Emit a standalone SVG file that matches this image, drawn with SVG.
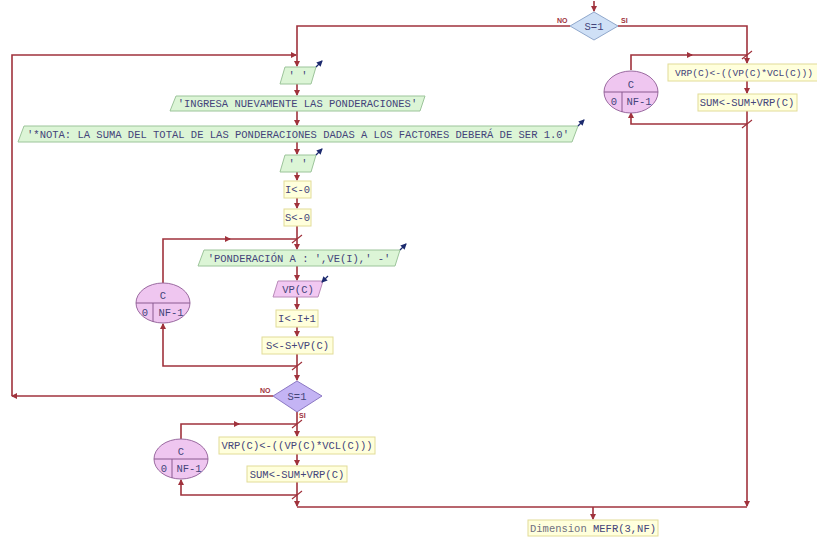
<svg xmlns="http://www.w3.org/2000/svg" width="817" height="537" viewBox="0 0 817 537">
<defs>
<marker id="ah" markerWidth="6" markerHeight="6" refX="5" refY="3" orient="auto" markerUnits="userSpaceOnUse">
<path d="M0,0 L6,3 L0,6 Z" fill="#a0323c"/>
</marker>
<marker id="bh" markerWidth="6" markerHeight="6" refX="5" refY="3" orient="auto" markerUnits="userSpaceOnUse">
<path d="M0,0 L6,3 L0,6 Z" fill="#1c2a6e"/>
</marker>
<style>
.c{fill:none;stroke:#a0323c;stroke-width:1.6}
.s{fill:none;stroke:#a0323c;stroke-width:1.2}
.o{fill:none;stroke:#1c2a6e;stroke-width:1.3}
.g{fill:#dcf5d6;stroke:#9cc49a;stroke-width:1}
.y{fill:#ffffdc;stroke:#e2dc98;stroke-width:1}
.p{fill:#f2c8f2;stroke:#b98ab9;stroke-width:1}
.e{fill:#efc6f0;stroke:#9a6aa0;stroke-width:1}
.db{fill:#cfe0f6;stroke:#90a8cc;stroke-width:1}
.dp{fill:#c4b4f4;stroke:#8c78c4;stroke-width:1}
.t{font-family:"Liberation Mono","DejaVu Sans Mono",monospace;font-size:10.5px;fill:#44447a;text-anchor:middle}
.l{font-family:"Liberation Sans",Arial,sans-serif;font-size:7px;font-weight:bold;fill:#a0323c}
.ln{stroke:#8a5a90;stroke-width:1;fill:none}
</style>
</defs>
<rect width="817" height="537" fill="#ffffff"/>

<g id="connectors">
<path class="c" d="M594,1 V11" marker-end="url(#ah)"/>
<path class="c" d="M570,26 H297 V66" marker-end="url(#ah)"/>
<path class="c" d="M618,26 H747 V63" marker-end="url(#ah)"/>
<path class="c" d="M273,396 H12" marker-end="url(#ah)"/>
<path class="c" d="M12,396 V55 H296" marker-end="url(#ah)"/>
<path class="c" d="M297,84 V95" marker-end="url(#ah)"/>
<path class="c" d="M297,111 V125" marker-end="url(#ah)"/>
<path class="c" d="M297,142 V154" marker-end="url(#ah)"/>
<path class="c" d="M297,172 V180" marker-end="url(#ah)"/>
<path class="c" d="M297,198 V208" marker-end="url(#ah)"/>
<path class="c" d="M297,226 V249" marker-end="url(#ah)"/>
<path class="c" d="M297,266 V280" marker-end="url(#ah)"/>
<path class="c" d="M297,297 V309" marker-end="url(#ah)"/>
<path class="c" d="M297,327 V336" marker-end="url(#ah)"/>
<path class="c" d="M297,354 V380" marker-end="url(#ah)"/>
<path class="c" d="M163,283 V239 H230" marker-end="url(#ah)"/>
<path class="c" d="M228,239 H297"/>
<path class="c" d="M297,366 H163 V324" marker-end="url(#ah)"/>
<path class="c" d="M297,412 V436" marker-end="url(#ah)"/>
<path class="c" d="M181,439 V424 H239" marker-end="url(#ah)"/>
<path class="c" d="M237,424 H297"/>
<path class="c" d="M297,454 V465" marker-end="url(#ah)"/>
<path class="c" d="M297,482 V506" marker-end="url(#ah)"/>
<path class="c" d="M297,495 H181 V480" marker-end="url(#ah)"/>
<path class="c" d="M297,507 H747"/>
<path class="c" d="M747,81 V93" marker-end="url(#ah)"/>
<path class="c" d="M747,111 V506" marker-end="url(#ah)"/>
<path class="c" d="M631,70 V55 H692" marker-end="url(#ah)"/>
<path class="c" d="M690,55 H747"/>
<path class="c" d="M747,124 H631 V113" marker-end="url(#ah)"/>
<path class="c" d="M593,507 V519" marker-end="url(#ah)"/>
<path class="s" d="M292,243 L302,235 M292,370 L302,362 M292,428 L302,420 M292,499 L302,491 M742,59 L752,51 M742,128 L752,120"/>
<text class="l" x="557" y="23">NO</text>
<text class="l" x="621" y="23">SI</text>
<text class="l" x="260" y="393">NO</text>
<text class="l" x="299" y="418">SI</text>
</g>

<g id="dec1">
<polygon class="db" points="594,12 618,26 594,40 570,26"/>
<text class="t" x="594" y="30">S=1</text>
</g>

<g id="out1">
<polygon class="g" points="285,67 316,67 311,84 280,84"/>
<text class="t" x="298" y="79">' '</text>
<path class="o" d="M316,67 L322,61" marker-end="url(#bh)"/>
</g>

<g id="out2">
<polygon class="g" points="176,96 425,96 420,111 170,111"/>
<text class="t" x="297.5" y="107">'INGRESA NUEVAMENTE LAS PONDERACIONES'</text>
</g>

<g id="out3">
<polygon class="g" points="24,126 578,126 572,142 18,142"/>
<text class="t" x="298" y="138">'*NOTA: LA SUMA DEL TOTAL DE LAS PONDERACIONES DADAS A LOS FACTORES DEBERÁ DE SER 1.0'</text>
<path class="o" d="M578,126 L584,120" marker-end="url(#bh)"/>
</g>

<g id="out4">
<polygon class="g" points="285,155 316,155 311,172 280,172"/>
<text class="t" x="298" y="167">' '</text>
<path class="o" d="M316,155 L322,149" marker-end="url(#bh)"/>
</g>

<g id="asg1">
<rect class="y" x="284" y="181" width="27" height="17"/>
<text class="t" x="297.5" y="193">I&lt;-0</text>
</g>

<g id="asg2">
<rect class="y" x="284" y="209" width="27" height="17"/>
<text class="t" x="297.5" y="221">S&lt;-0</text>
</g>

<g id="loop1">
<ellipse class="e" cx="163" cy="303" rx="27" ry="20"/>
<path class="ln" d="M136,303 H190 M153,303 V322"/>
<text class="t" x="163" y="299">C</text>
<text class="t" x="145" y="316">0</text>
<text class="t" x="171" y="316">NF-1</text>
</g>

<g id="out5">
<polygon class="g" points="204,250 400,250 395,266 198,266"/>
<text class="t" x="299" y="262">'PONDERACIÓN A : ',VE(I),' -'</text>
<path class="o" d="M400,250 L406,244" marker-end="url(#bh)"/>
</g>

<g id="in1">
<polygon class="p" points="278,281 323,281 318,297 273,297"/>
<text class="t" x="298" y="293">VP(C)</text>
<path class="o" d="M328,276 L322,282" marker-end="url(#bh)"/>
</g>

<g id="asg3">
<rect class="y" x="276" y="310" width="42" height="17"/>
<text class="t" x="297" y="322">I&lt;-I+1</text>
</g>

<g id="asg4">
<rect class="y" x="262" y="337" width="71" height="17"/>
<text class="t" x="297.5" y="349">S&lt;-S+VP(C)</text>
</g>

<g id="dec2">
<polygon class="dp" points="297,381 322,396 297,412 273,396"/>
<text class="t" x="297" y="400">S=1</text>
</g>

<g id="loop2">
<ellipse class="e" cx="181" cy="459" rx="27" ry="20"/>
<path class="ln" d="M154,459 H208 M172,459 V478"/>
<text class="t" x="181" y="455">C</text>
<text class="t" x="164" y="472">0</text>
<text class="t" x="189" y="472">NF-1</text>
</g>

<g id="asg5">
<rect class="y" x="219" y="437" width="156" height="17"/>
<text class="t" x="297" y="449">VRP(C)&lt;-((VP(C)*VCL(C)))</text>
</g>

<g id="asg6">
<rect class="y" x="247" y="466" width="100" height="16"/>
<text class="t" x="297" y="478">SUM&lt;-SUM+VRP(C)</text>
</g>

<g id="loop3">
<ellipse class="e" cx="631" cy="92" rx="27" ry="21"/>
<path class="ln" d="M604,92 H658 M622,92 V112"/>
<text class="t" x="631" y="88">C</text>
<text class="t" x="614" y="105">0</text>
<text class="t" x="639" y="105">NF-1</text>
</g>

<g id="asg7">
<rect class="y" x="668" y="64" width="158" height="17"/>
<text class="t" x="744" y="76" style="font-size:9.6px">VRP(C)&lt;-((VP(C)*VCL(C)))</text>
</g>

<g id="asg8">
<rect class="y" x="698" y="94" width="99" height="17"/>
<text class="t" x="747" y="106">SUM&lt;-SUM+VRP(C)</text>
</g>

<g id="dim">
<rect class="y" x="528" y="520" width="130" height="16"/>
<text class="t" x="593" y="532"><tspan fill="#707080">Dimension</tspan> MEFR(3,NF)</text>
</g>
</svg>
